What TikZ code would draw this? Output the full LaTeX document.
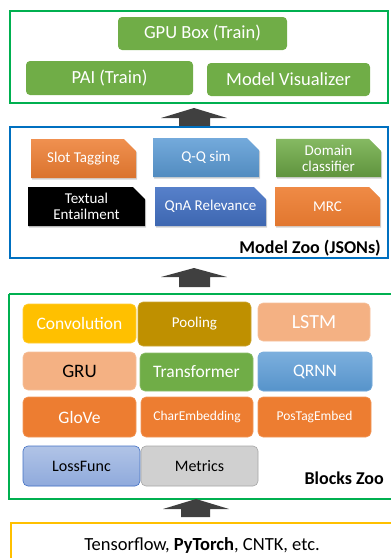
\documentclass[tikz,border=0pt]{standalone}
\usepackage{fontspec}
\setmainfont{Carlito}
\usetikzlibrary{shapes.misc,shadows}
\definecolor{frgreen}{HTML}{00B050}
\definecolor{frblue}{HTML}{0070C0}
\definecolor{fryellow}{HTML}{FFC000}
\definecolor{pgreen}{HTML}{70AD47}
\definecolor{arrowgray}{HTML}{404040}
\definecolor{orng}{HTML}{ED7D31}
\definecolor{lblue}{HTML}{5B9BD5}
\definecolor{dblue}{HTML}{4472C4}
\definecolor{gold}{HTML}{FFC000}
\definecolor{dgold}{HTML}{BF9000}
\definecolor{peach}{HTML}{F4B183}
\definecolor{lossblue}{HTML}{8FAADC}
\definecolor{metgray}{HTML}{D0D0D0}
\newcommand{\fs}[1]{\fontsize{#1}{#1}\selectfont}
\begin{document}
\begin{tikzpicture}[x=1pt,y=-1pt,
  frame/.style={draw=#1, line width=2pt},
  pbox/.style={fill=pgreen, rounded corners=4pt, inner sep=0pt, text=white, font=\fs{18.5}},
  zoo/.style={chamfered rectangle, chamfered rectangle corners=north east,
    chamfered rectangle xsep=6pt, chamfered rectangle ysep=6pt, inner sep=0pt,
    text=white, font=\fontsize{15}{16}\selectfont, align=center,
    drop shadow={shadow xshift=1pt, shadow yshift=-1.5pt, opacity=0.35}},
  blk/.style={fill=#1, draw=#1!80!white, line width=0.6pt, rounded corners=5pt, inner sep=0pt, text=white},
  bigarrow/.style={fill=arrowgray},
  lbl/.style={font=\bfseries\fs{18}, inner sep=0pt}
]
\useasboundingbox (0,0) rectangle (391,558);

% ---- top frame
\draw[frame=frgreen] (10,11) rectangle (388,103);
\node[pbox, minimum width=169pt, minimum height=33pt] (gpu) at (202.5,33.5) {GPU Box (Train)};
\node[pbox, minimum width=167pt, minimum height=34pt] (pai) at (109.5,78) {PAI (Train)};
\node[pbox, minimum width=163pt, minimum height=33pt] (mv) at (288.5,79.5) {Model Visualizer};

% arrow 1
\fill[bigarrow] (161,118) -- (194,108) -- (227,118) -- (210,118) -- (210,127) -- (179,127) -- (179,118) -- cycle;

% ---- model zoo
\draw[frame=frblue] (10,127) rectangle (388,258);
\node[zoo, top color=orng!85!white, bottom color=orng!92!black, minimum width=105pt, minimum height=39pt] (slot) at (83.5,158.5) {Slot Tagging};
\node[zoo, top color=lblue!85!white, bottom color=lblue!90!black, minimum width=106pt, minimum height=39pt] (qq) at (206,157.5) {Q-Q sim};
\node[zoo, top color=pgreen!85!white, bottom color=pgreen!85!black, minimum width=105pt, minimum height=38pt] (dom) at (328.5,158) {Domain\\classifier};
\node[zoo, fill=black, minimum width=117pt, minimum height=39pt] (te) at (86.5,206.5) {Textual\\Entailment};
\node[zoo, top color=dblue!90!white, bottom color=dblue!90!black, minimum width=111pt, minimum height=39pt] (qna) at (210.5,206.5) {QnA Relevance};
\node[zoo, top color=orng!90!white, bottom color=orng!95!black, minimum width=105pt, minimum height=39pt] (mrc) at (327.5,206.5) {MRC};
\node[lbl, anchor=east] (mz) at (381,248) {Model Zoo (JSONs)};

% arrow 2
\fill[bigarrow] (161,277) -- (194,268) -- (227,277) -- (210,277) -- (210,287) -- (179,287) -- (179,277) -- cycle;

% ---- blocks zoo
\draw[frame=frgreen] (9,294) -- (396,294) (9,294) -- (9,499) -- (396,499);
\node[blk=gold, minimum width=113pt, minimum height=39pt, font=\fs{17.5}] (conv) at (79.5,323.5) {Convolution};
\node[blk=dgold, minimum width=113pt, minimum height=44pt, font=\fs{15}] (pool) at (194.5,324) {Pooling};
\node[blk=peach, minimum width=112pt, minimum height=38pt, font=\fs{20}] (lstm) at (314,322) {LSTM};
\node[blk=peach, minimum width=113pt, minimum height=38pt, font=\fs{19}, text=black] (gru) at (79.5,371) {GRU};
\node[blk=pgreen, minimum width=113pt, minimum height=38pt, font=\fs{17.5}] (trf) at (196.5,372) {Transformer};
\node[blk=lblue, top color=lblue!80!white, bottom color=lblue!95!black, minimum width=114pt, minimum height=39pt, font=\fs{17.5}] (qrnn) at (315,371.5) {QRNN};
\node[blk=orng, minimum width=113pt, minimum height=40pt, font=\fs{17.5}] (glove) at (79.5,417) {GloVe};
\node[blk=orng, minimum width=112pt, minimum height=40pt, font=\fs{13.5}] (char) at (197,417) {CharEmbedding};
\node[blk=orng, minimum width=113pt, minimum height=40pt, font=\fs{13.5}] (pos) at (314.5,417) {PosTagEmbed};
\node[blk=lossblue, draw=dblue, top color=lossblue!70!white, bottom color=lossblue, minimum width=117pt, minimum height=40pt, font=\fs{16}, text=black] (loss) at (81.5,466) {LossFunc};
\node[blk=metgray, draw=gray!70, minimum width=117pt, minimum height=40pt, font=\fs{16}, text=black] (met) at (199.5,466) {Metrics};
\node[lbl, anchor=east] (bz) at (384,478) {Blocks Zoo};

% arrow 3
\fill[bigarrow] (163,509) -- (196,499) -- (229,509) -- (210,509) -- (210,517) -- (181,517) -- (181,509) -- cycle;

% ---- backend frame
\draw[frame=fryellow] (11,565) -- (11,523) -- (396,523);
\node[font=\fs{18.5}, inner sep=0pt] (tf) at (202,545) {Tensorflow, \textbf{PyTorch}, CNTK, etc.};
\end{tikzpicture}
\end{document}
